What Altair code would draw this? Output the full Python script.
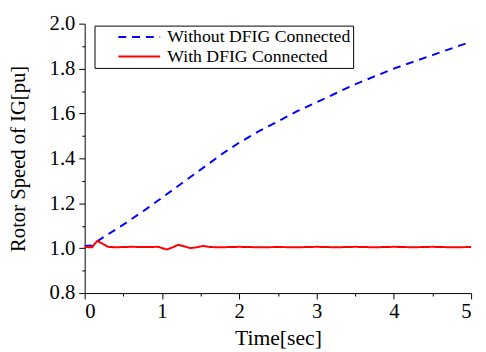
import altair as alt
import pandas as pd

# Without DFIG connected (blue dashed)
t_without = [0, 0.1, 0.18, 0.5, 0.8, 1.0, 1.2, 1.4, 1.6, 1.8, 2.0, 2.25, 2.5, 2.75,
             3.0, 3.25, 3.5, 3.75, 4.0, 4.25, 4.5, 4.75, 5.0]
v_without = [1.01, 1.012, 1.035, 1.105, 1.175, 1.225, 1.275, 1.325, 1.375, 1.425, 1.47,
             1.52, 1.565, 1.61, 1.65, 1.69, 1.73, 1.765, 1.8, 1.83, 1.86, 1.89, 1.92]

# With DFIG connected (red solid)
t_with = [0, 0.1, 0.13, 0.165, 0.22, 0.3, 0.4, 0.6, 0.8, 0.95, 1.06, 1.14, 1.21, 1.29,
          1.365, 1.45, 1.53, 1.62, 1.75, 2.0, 2.25, 2.5, 2.75, 3.0, 3.25, 3.5, 3.75,
          4.0, 4.25, 4.5, 4.75, 5.0]
v_with = [1.005, 1.004, 1.02, 1.032, 1.022, 1.006, 1.004, 1.006, 1.005, 1.006, 0.994,
          1.004, 1.015, 1.008, 1.0, 1.004, 1.01, 1.005, 1.004, 1.006, 1.004, 1.005,
          1.004, 1.006, 1.004, 1.006, 1.004, 1.006, 1.004, 1.006, 1.004, 1.005]

series_names = ["Without DFIG Connected", "With DFIG Connected"]
x_ticks = [0, 0.5, 1, 1.5, 2, 2.5, 3, 3.5, 4, 4.5, 5]
y_ticks = [0.8, 0.9, 1.0, 1.1, 1.2, 1.3, 1.4, 1.5, 1.6, 1.7, 1.8, 1.9, 2.0]

df = pd.concat([
    pd.DataFrame({"t": t_without, "v": v_without, "s": series_names[0], "o": 0}),
    pd.DataFrame({"t": t_with, "v": v_with, "s": series_names[1], "o": 1}),
])

FONT = "Liberation Serif"


def legend():
    return alt.Legend(orient="none", legendX=10, legendY=2,
                      labelFont=FONT, labelFontSize=18, labelLimit=0)


chart = alt.Chart(df).mark_line(strokeWidth=2).encode(
    x=alt.X("t:Q", title="Time[sec]",
            scale=alt.Scale(domain=[0, 5], nice=False, zero=False),
            axis=alt.Axis(values=x_ticks,
                          labelExpr="datum.value % 1 == 0 ? format(datum.value, 'd') : ''",
                          tickSize={"condition": {"test": "datum.value % 1 == 0", "value": 6}, "value": 3},
                          labelFont=FONT, labelFontSize=21,
                          labelPadding=2, titlePadding=6, titleFontSize=22)),
    y=alt.Y("v:Q", title="Rotor Speed of IG[pu]",
            scale=alt.Scale(domain=[0.8, 2.0], nice=False, zero=False),
            axis=alt.Axis(values=y_ticks,
                          labelExpr="round(datum.value * 10) % 2 == 0 ? format(datum.value, '.1f') : ''",
                          tickSize={"condition": {"test": "round(datum.value * 10) % 2 == 0", "value": 6}, "value": 3},
                          labelFont=FONT, labelFontSize=21,
                          labelPadding=4, titlePadding=21, titleFontSize=21)),
    color=alt.Color("s:N", title=None,
                    scale=alt.Scale(domain=series_names, range=["#0000ff", "#ff0000"]),
                    sort=series_names, legend=legend()),
    strokeDash=alt.StrokeDash("s:N", title=None,
                              scale=alt.Scale(domain=series_names, range=[[8, 6], [1, 0]]),
                              sort=series_names, legend=legend()),
    order="o:Q",
).properties(
    width=393, height=274,
    autosize=alt.AutoSizeParams(type="none"),
    padding={"left": 78, "top": 13, "right": 7, "bottom": 57},
).configure_view(stroke=None).configure_axis(
    grid=False, domainColor="black", domainWidth=1, tickColor="black", tickWidth=1,
    labelFont=FONT, labelFontSize=21, labelColor="black",
    titleFont=FONT, titleFontWeight="normal", titleColor="black",
).configure_legend(
    labelFont=FONT, labelFontSize=18, labelColor="black",
    strokeColor="black", fillColor="white", padding=2, rowPadding=1,
    symbolType="M-2.5,0H2.5", symbolSize=289, symbolStrokeWidth=2,
    symbolOffset=34, labelOffset=19,
)

chart.save("out.html", embed_options={"renderer": "svg", "actions": False})
